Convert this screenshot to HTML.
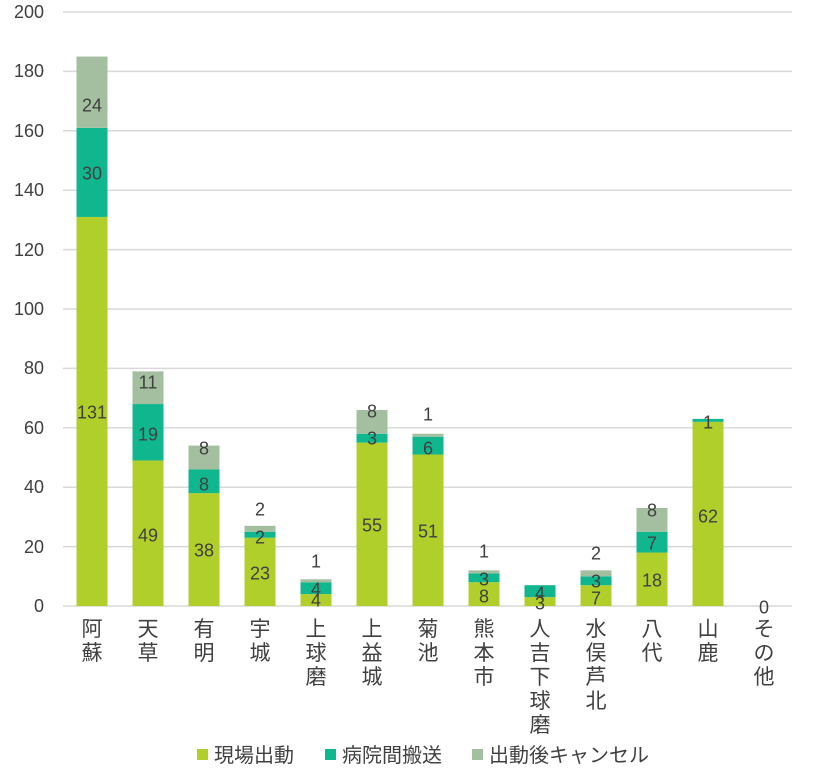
<!DOCTYPE html>
<html><head><meta charset="utf-8"><style>
body{margin:0;background:#fff;}
svg text{font-family:"Liberation Sans","Noto Sans CJK JP",sans-serif;fill:#404040;}
</style></head><body>
<svg width="831" height="772" viewBox="0 0 831 772" xmlns="http://www.w3.org/2000/svg">
<g stroke="#d9d9d9" stroke-width="1.5">
<line x1="63" x2="792" y1="12" y2="12"/><line x1="63" x2="792" y1="71.4" y2="71.4"/>
<line x1="63" x2="792" y1="130.8" y2="130.8"/><line x1="63" x2="792" y1="190.2" y2="190.2"/>
<line x1="63" x2="792" y1="249.6" y2="249.6"/><line x1="63" x2="792" y1="309" y2="309"/>
<line x1="63" x2="792" y1="368.4" y2="368.4"/><line x1="63" x2="792" y1="427.8" y2="427.8"/>
<line x1="63" x2="792" y1="487.2" y2="487.2"/><line x1="63" x2="792" y1="546.6" y2="546.6"/>
<line x1="63" x2="792" y1="606" y2="606"/>
</g>
<g font-size="18" text-anchor="end">
<text x="44" y="18">200</text><text x="44" y="77">180</text><text x="44" y="137">160</text>
<text x="44" y="196">140</text><text x="44" y="256">120</text><text x="44" y="315">100</text>
<text x="44" y="374">80</text><text x="44" y="434">60</text><text x="44" y="493">40</text>
<text x="44" y="553">20</text><text x="44" y="612">0</text>
</g>
<g id="bars"></g>
<g id="labels" font-size="18" text-anchor="middle"></g>
<g id="cats" font-size="21" text-anchor="middle"></g>
<g font-size="20">
<rect x="197" y="749" width="11" height="11" fill="#b1cf2b"/><text x="214" y="762">現場出動</text>
<rect x="325" y="749" width="11" height="11" fill="#0fb68e"/><text x="342" y="762">病院間搬送</text>
<rect x="472" y="749" width="11" height="11" fill="#a4bfa0"/><text x="489" y="762">出動後キャンセル</text>
</g>
<script>
var d=[["阿蘇",131,30,24,[412,173,105]],["天草",49,19,11,[535,434,382]],["有明",38,8,8,[550,484,448]],["宇城",23,2,2,[573,537,509]],["上球磨",4,4,1,[600,589,561]],["上益城",55,3,8,[525,438,411]],["菊池",51,6,1,[531,448,414]],["熊本市",8,3,1,[596,579,551]],["人吉下球磨",3,4,0,[603,593,null]],["水俣芦北",7,3,2,[598,581,553]],["八代",18,7,8,[580,543,510]],["山鹿",62,1,0,[516,422,null]],["その他",0,0,0,[607,null,null]]];
var cols=["#b1cf2b","#0fb68e","#a4bfa0"],k=2.97,ns="http://www.w3.org/2000/svg";
function el(t,a,p,tx){var e=document.createElementNS(ns,t);for(var n in a)e.setAttribute(n,a[n]);if(tx!=null)e.textContent=tx;document.getElementById(p).appendChild(e);}
d.forEach(function(r,i){var cx=92+56*i,y=606;
for(var s=0;s<3;s++){var h=r[s+1]*k;if(h>0){el("rect",{x:cx-15.5,y:y-h,width:31,height:h,fill:cols[s]},"bars");}y-=h;
if(r[4][s]!=null)el("text",{x:cx,y:r[4][s]+6.5},"labels",r[s+1]);}
var chars=r[0].split("");chars.forEach(function(c,j){el("text",{x:cx,y:636+j*24},"cats",c);});});
</script>
</svg>
</body></html>
